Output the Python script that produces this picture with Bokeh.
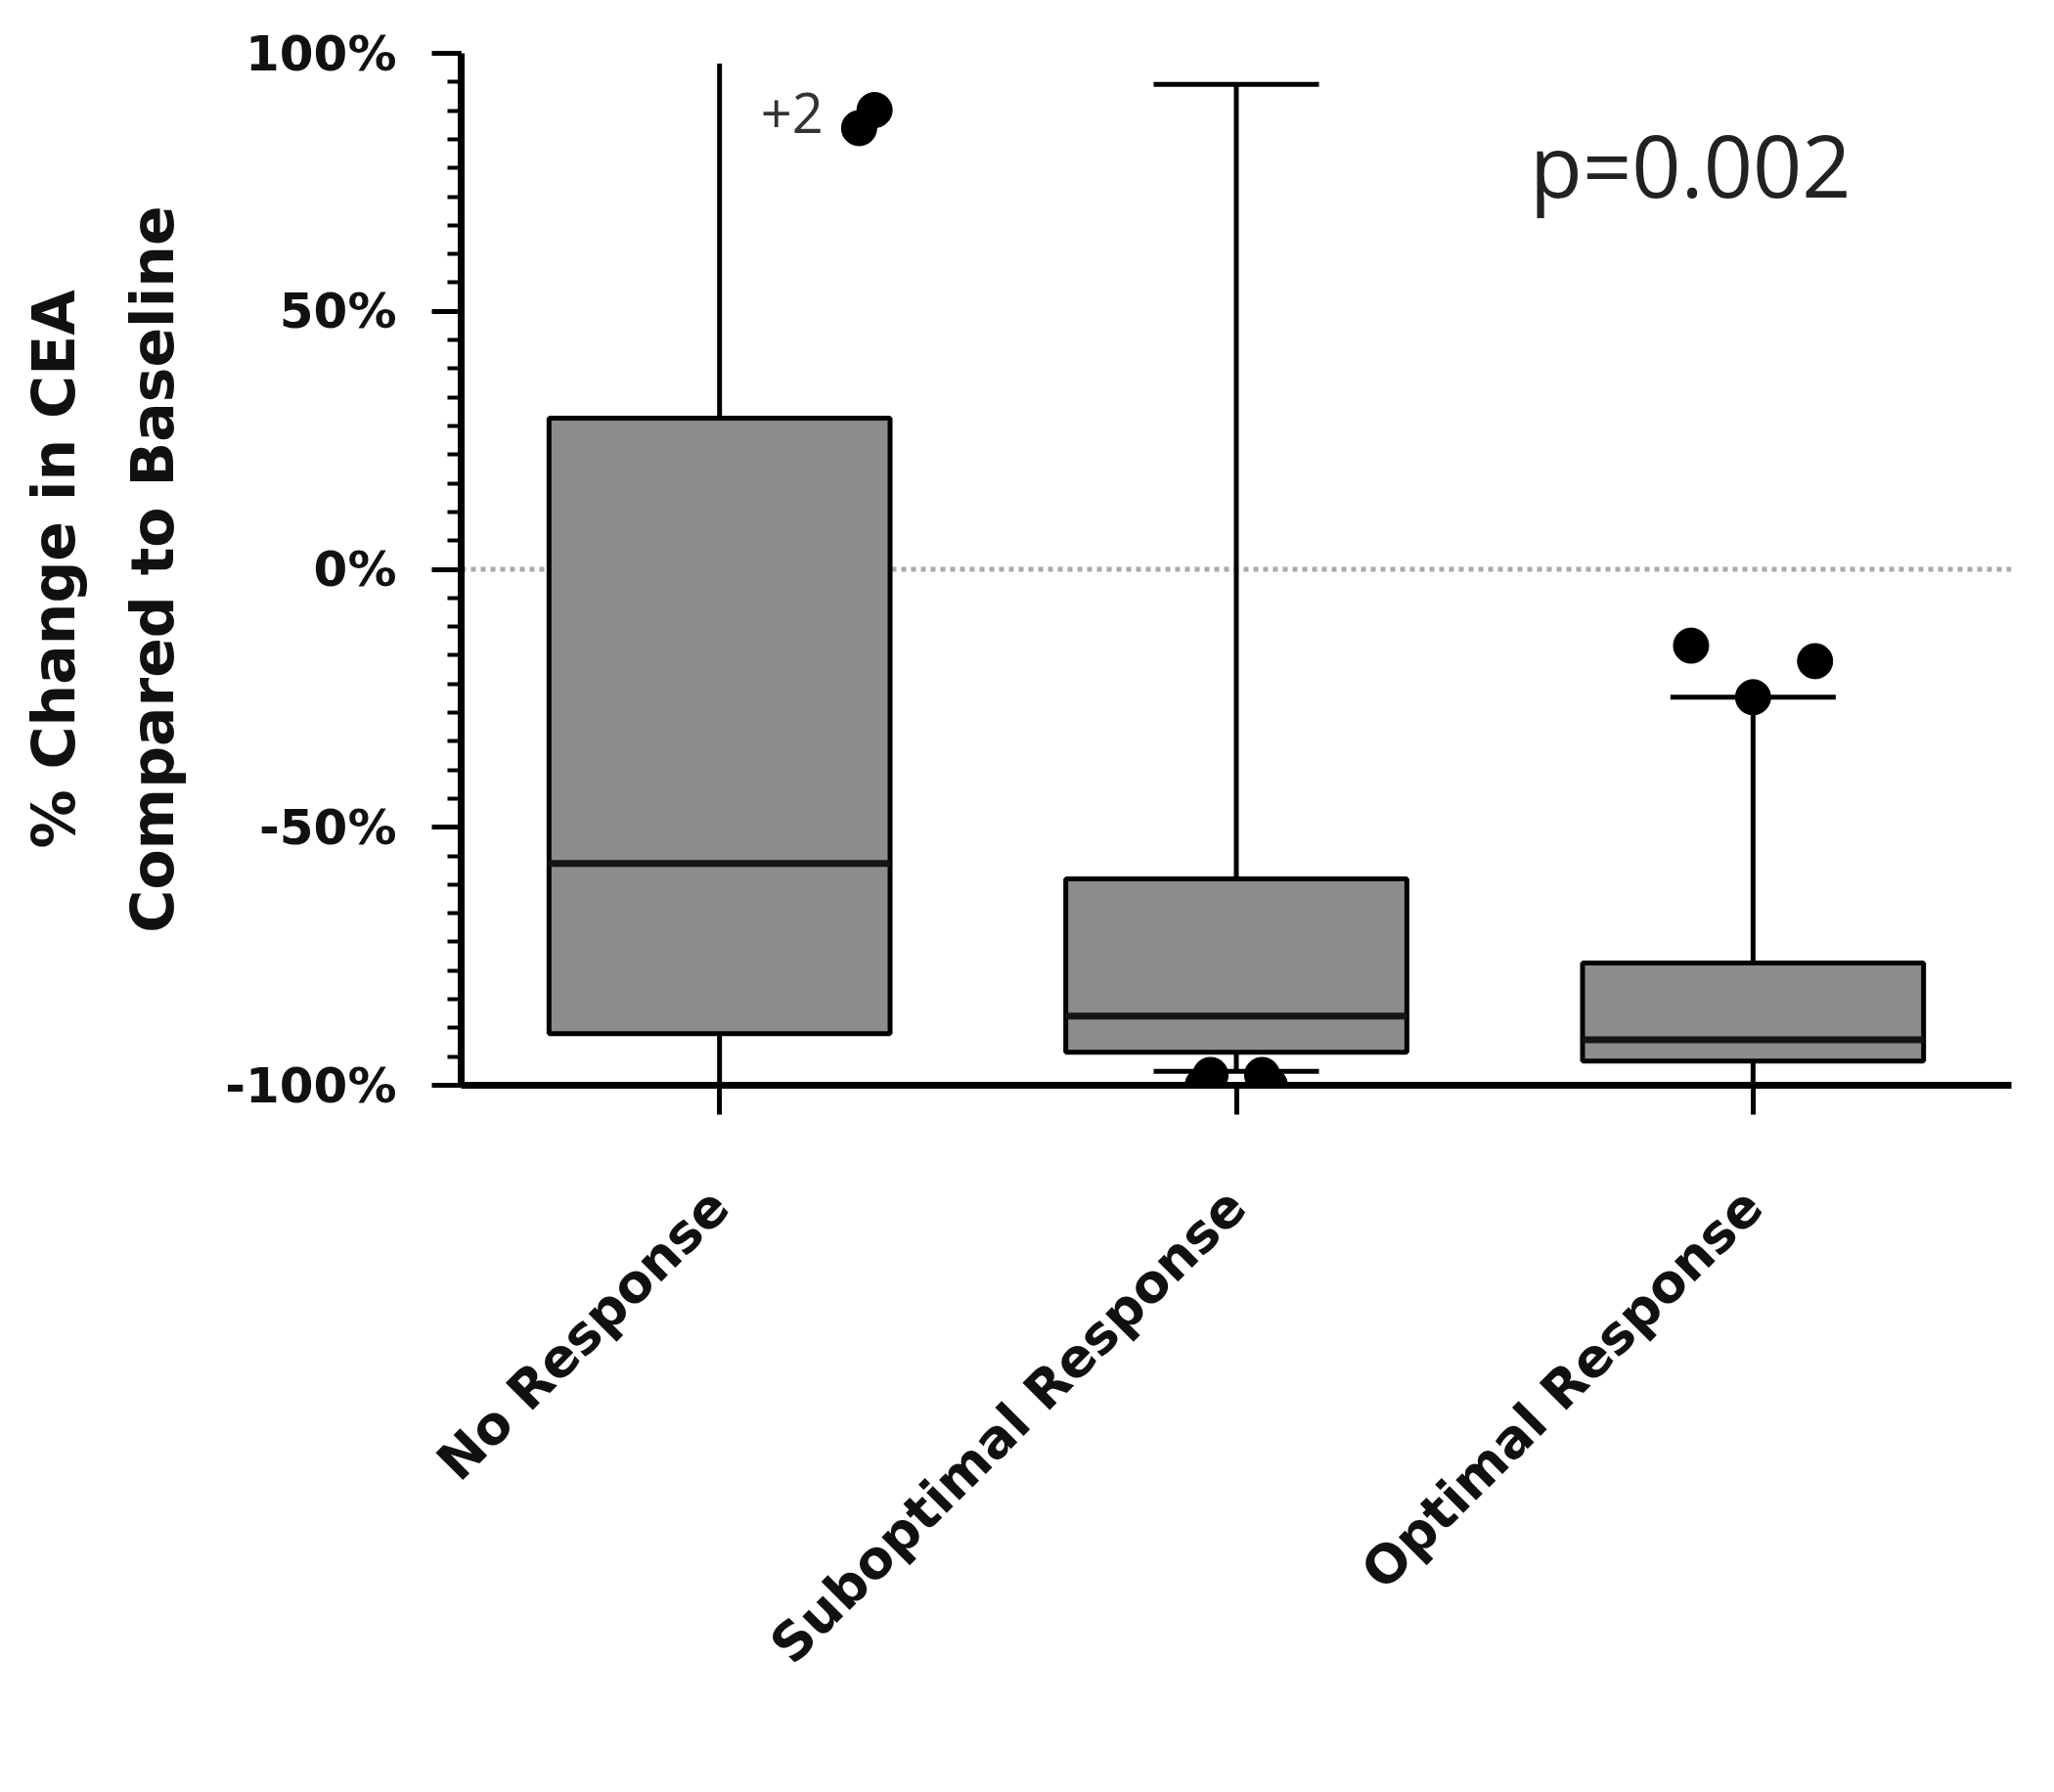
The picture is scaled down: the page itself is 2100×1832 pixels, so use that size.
import math
import numpy as np
from bokeh.plotting import figure
from bokeh.models import FactorRange, Range1d, FixedTicker, PrintfTickFormatter, Span, Label
from bokeh.embed import file_html
from bokeh.resources import INLINE

# ---------------- data ----------------
categories = ["No Response", "Suboptimal Response", "Optimal Response"]
q1 = [-90.0, -93.6, -95.3]
median = [-57.0, -86.6, -91.2]
q3 = [29.3, -60.0, -76.3]
whisker_low = [-100.0, -97.3, -100.0]
whisker_high = [98.0, 94.0, -24.8]
upper_cap_shown = [False, True, True]

no_resp_outliers = [89.0, 85.5]
subopt_outliers = [-98.0, -98.0, -100.0, -100.0]
opt_outliers = [-14.8, -17.8, -24.8]

y_ticks = [-100, -50, 0, 50, 100]
p_value_text = "p=0.002"
extra_text = "+2"

# ---------------- style ----------------
no_resp_spread = [0.30, 0.27]
subopt_spread = [-0.05, 0.05, -0.065, 0.065]
opt_spread = [-0.12, 0.12, 0.0]
box_w = 0.66
cap_w = 0.32
BOLD_FONT = "DejaVu Sans"

p = figure(
    x_range=FactorRange(factors=categories, range_padding=0),
    y_range=Range1d(-100, 100),
    width=2080, height=1812,
    output_backend="svg", toolbar_location=None,
    min_border_left=471, min_border_right=24,
    min_border_top=54, min_border_bottom=703,
)
p.outline_line_color = None
p.xgrid.visible = False
p.ygrid.visible = False
p.background_fill_color = "white"

zero = Span(location=0, dimension="width", line_color="#aaaaaa",
            line_width=5, line_dash="5 5", level="underlay")
p.add_layout(zero)

centers = [i + 0.5 for i in range(len(categories))]

# whiskers
p.segment(x0=centers, y0=q3, x1=centers, y1=whisker_high, line_color="black", line_width=5)
p.segment(x0=centers, y0=q1, x1=centers, y1=whisker_low, line_color="black", line_width=5)

# caps
up_x = [c for c, s in zip(centers, upper_cap_shown) if s]
up_y = [v for v, s in zip(whisker_high, upper_cap_shown) if s]
p.segment(x0=[c - cap_w / 2 for c in up_x], y0=up_y, x1=[c + cap_w / 2 for c in up_x], y1=up_y,
          line_color="black", line_width=5)
p.segment(x0=[c - cap_w / 2 for c in centers], y0=whisker_low,
          x1=[c + cap_w / 2 for c in centers], y1=whisker_low,
          line_color="black", line_width=5)

# boxes
p.vbar(x=categories, top=q3, bottom=q1, width=box_w, fill_color="#8c8c8c",
       line_color="black", line_width=5)
# medians
p.segment(x0=[c - box_w / 2 for c in centers], y0=median,
          x1=[c + box_w / 2 for c in centers], y1=median,
          line_color="#151515", line_width=7)

# outliers
for ci, vals, spread in [(0, no_resp_outliers, no_resp_spread),
                         (1, subopt_outliers, subopt_spread),
                         (2, opt_outliers, opt_spread)]:
    p.scatter(x=[centers[ci] + s for s in spread], y=vals, size=36,
              fill_color="black", line_color="black")

# annotations
p.add_layout(Label(x=centers[0], y=88.5, x_offset=106, text=extra_text,
                   text_align="right", text_baseline="middle",
                   text_font="Open Sans", text_font_size="56px", text_color="#333333"))
p.add_layout(Label(x=centers[2], y=78.5, x_offset=-64, text=p_value_text,
                   text_align="center", text_baseline="middle",
                   text_font="Open Sans", text_font_size="88px", text_color="#222222"))

# y axis
yax = p.yaxis[0]
yax.ticker = FixedTicker(ticks=y_ticks, minor_ticks=list(np.linspace(-100, 100, 37)))
yax.formatter = PrintfTickFormatter(format="%d%%")
yax.axis_line_width = 7
yax.major_tick_line_width = 5
yax.minor_tick_line_width = 4
yax.major_tick_out = 30
yax.major_tick_in = 0
yax.minor_tick_out = 14
yax.minor_tick_in = 0
yax.major_label_standoff = 36
yax.major_label_text_font = BOLD_FONT
yax.major_label_text_font_style = "bold"
yax.major_label_text_font_size = "50px"
yax.major_label_text_color = "#111111"
yax.axis_label = "% Change in CEA\nCompared to Baseline"
yax.axis_label_text_font = BOLD_FONT
yax.axis_label_text_font_style = "bold"
yax.axis_label_text_font_size = "60px"
yax.axis_label_text_color = "#111111"
yax.axis_label_text_line_height = 1.45
yax.axis_label_standoff = 36

# x axis
xax = p.xaxis[0]
xax.axis_line_width = 7
xax.major_tick_line_width = 5
xax.major_tick_out = 30
xax.major_tick_in = 0
xax.major_label_orientation = math.pi / 4
xax.major_label_standoff = 85
xax.major_label_text_font = BOLD_FONT
xax.major_label_text_font_style = "bold"
xax.major_label_text_font_size = "54px"
xax.major_label_text_color = "#111111"

open("out.html", "w").write(file_html(p, INLINE))
